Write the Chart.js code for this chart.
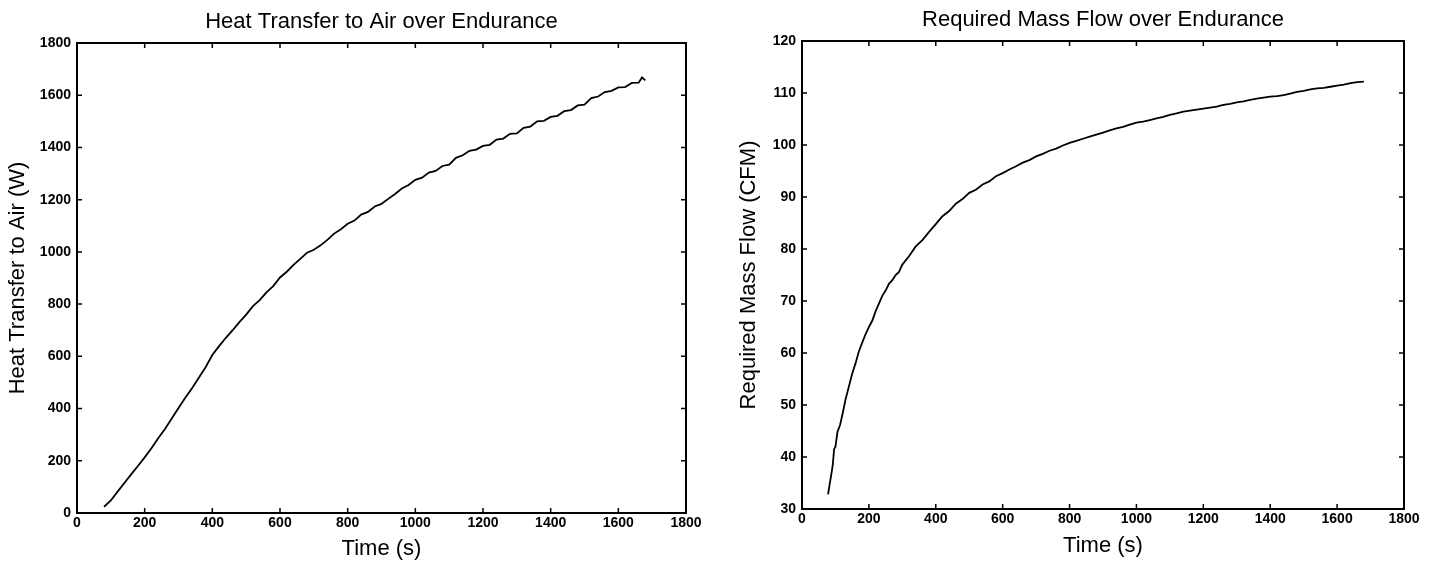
<!DOCTYPE html>
<html>
  <head>
    <meta charset="UTF-8" />
    <title>Heat Transfer and Mass Flow over Endurance</title>
    <script src="https://cdn.jsdelivr.net/npm/chart.js"></script>
    <style>
      body {
        margin: 0;
        background-color: white;
        width: 1432px;
        height: 564px;
        overflow: hidden;
      }
      canvas {
        position: absolute;
        top: 0;
      }
      #heat {
        left: 0;
      }
      #flow {
        left: 716px;
      }
    </style>
  </head>
  <body>
    <canvas id="heat" width="716" height="564"></canvas>
    <canvas id="flow" width="716" height="564"></canvas>

    <script>
      // values
      const heatTime = [
        80, 100, 120, 140, 160, 180, 200, 220, 240, 260, 280, 300, 320, 340, 360, 380, 400,
        420, 440, 460, 480, 500, 520, 540, 560, 580, 600, 620, 640, 660, 680, 700, 720, 740,
        760, 780, 800, 820, 840, 860, 880, 900, 920, 940, 960, 980, 1000, 1020, 1040, 1060,
        1080, 1100, 1120, 1140, 1160, 1180, 1200, 1220, 1240, 1260, 1280, 1300, 1320, 1340,
        1360, 1380, 1400, 1420, 1440, 1460, 1480, 1500, 1520, 1540, 1560, 1580, 1600, 1620,
        1640, 1660, 1670, 1680,
      ];
      const heatWatts = [
        24, 48, 82, 115, 148, 180, 213, 248, 286, 322, 362, 402, 441, 478, 518, 558, 605,
        639, 671, 700, 731, 760, 792, 815, 845, 869, 902, 924, 950, 973, 997, 1008, 1025, 1046,
        1070, 1087, 1108, 1120, 1143, 1153, 1174, 1184, 1203, 1222, 1243, 1256, 1276, 1284, 1304, 1310,
        1329, 1334, 1360, 1370, 1387, 1392, 1406, 1410, 1430, 1434, 1452, 1454, 1475, 1480,
        1500, 1502, 1517, 1521, 1539, 1543, 1561, 1564, 1589, 1595, 1612, 1617, 1630, 1631,
        1647, 1648, 1668, 1657,
      ];

      const flowTime = [
        78, 82, 88, 92, 96, 100, 106, 114, 122, 130, 140, 150, 160, 170, 180, 190, 200, 210,
        220, 230, 240, 250, 260, 270, 280, 290, 300, 320, 340, 360, 380, 400, 420, 440, 460,
        480, 500, 520, 540, 560, 580, 600, 620, 640, 660, 680, 700, 720, 740, 760, 780, 800,
        820, 840, 860, 880, 900, 920, 940, 960, 980, 1000, 1020, 1040, 1060, 1080, 1100, 1120,
        1140, 1160, 1180, 1200, 1220, 1240, 1260, 1280, 1300, 1320, 1340, 1360, 1380, 1400,
        1420, 1440, 1460, 1480, 1500, 1520, 1540, 1560, 1580, 1600, 1620, 1640, 1660, 1680,
      ];
      const flowCfm = [
        32.8, 34.5, 36.8, 38.5, 41.5, 42.0, 44.8, 46.2, 48.5, 51.0, 53.5, 56.0, 58.0, 60.3, 62.0, 63.6, 65.0, 66.2,
        68.0, 69.5, 71.0, 72.0, 73.3, 74.0, 75.0, 75.6, 77.0, 78.6, 80.5, 81.7, 83.3, 84.8, 86.3, 87.3, 88.7,
        89.6, 90.8, 91.4, 92.4, 93.0, 94.0, 94.6, 95.3, 95.9, 96.6, 97.1, 97.8, 98.3, 98.9, 99.3, 99.9, 100.4,
        100.8, 101.2, 101.6, 102.0, 102.4, 102.8, 103.2, 103.5, 103.9, 104.3, 104.5, 104.8, 105.1, 105.4, 105.8, 106.1,
        106.4, 106.6, 106.8, 107.0, 107.2, 107.4, 107.7, 107.9, 108.2, 108.4, 108.7, 108.9, 109.1, 109.3,
        109.4, 109.6, 109.9, 110.2, 110.4, 110.7, 110.9, 111.0, 111.2, 111.4, 111.6, 111.9, 112.1, 112.2,
      ];

      const timeTicks = [0, 200, 400, 600, 800, 1000, 1200, 1400, 1600, 1800];
      const heatTicks = [0, 200, 400, 600, 800, 1000, 1200, 1400, 1600, 1800];
      const flowTicks = [30, 40, 50, 60, 70, 80, 90, 100, 110, 120];

      const fontFamily = "'Liberation Sans', Arial, sans-serif";

      // box with inward ticks on all four sides, like the original plots
      const framePlugin = {
        id: "frame",
        afterDraw(chart) {
          const ctx = chart.ctx;
          const a = chart.chartArea;
          const xs = chart.scales.x;
          const ys = chart.scales.y;
          ctx.save();
          ctx.strokeStyle = "#000";
          ctx.lineWidth = 1.5;
          ctx.beginPath();
          xs.ticks.forEach((t) => {
            const px = xs.getPixelForValue(t.value);
            ctx.moveTo(px, a.bottom);
            ctx.lineTo(px, a.bottom - 5);
            ctx.moveTo(px, a.top);
            ctx.lineTo(px, a.top + 5);
          });
          ys.ticks.forEach((t) => {
            const py = ys.getPixelForValue(t.value);
            ctx.moveTo(a.left, py);
            ctx.lineTo(a.left + 5, py);
            ctx.moveTo(a.right, py);
            ctx.lineTo(a.right - 5, py);
          });
          ctx.stroke();
          ctx.lineWidth = 2;
          ctx.strokeRect(a.left, a.top, a.width, a.height);
          ctx.restore();
        },
      };

      function makeChart(id, opts) {
        const points = opts.xs.map((x, i) => ({ x: x, y: opts.ys[i] }));
        return new Chart(document.getElementById(id), {
          type: "line",
          data: {
            datasets: [
              {
                data: points,
                borderColor: "#000",
                borderWidth: 1.8,
                pointRadius: 0,
                tension: 0,
              },
            ],
          },
          options: {
            responsive: false,
            animation: false,
            layout: { padding: { left: 0, right: opts.padRight, top: 0, bottom: 0 } },
            plugins: {
              legend: { display: false },
              tooltip: { enabled: false },
              title: {
                display: true,
                fullSize: false,
                text: opts.title,
                color: "#000",
                font: { family: fontFamily, size: 22, weight: "normal" },
                padding: { top: opts.titleTop, bottom: opts.titleBottom },
              },
            },
            scales: {
              x: {
                type: "linear",
                min: 0,
                max: 1800,
                afterBuildTicks: (s) => {
                  s.ticks = timeTicks.map((v) => ({ value: v }));
                },
                afterFit: (s) => {
                  s.height = opts.xHeight;
                },
                grid: { display: false, drawTicks: false },
                border: { display: false },
                ticks: {
                  color: "#000",
                  padding: 2,
                  maxRotation: 0,
                  autoSkip: false,
                  callback: (v) => String(v),
                  font: { family: fontFamily, size: 14, weight: "bold" },
                },
                title: {
                  display: true,
                  text: "Time (s)",
                  color: "#000",
                  font: { family: fontFamily, size: 22 },
                  padding: { top: 0, bottom: opts.xTitlePad },
                },
              },
              y: {
                type: "linear",
                min: opts.yMin,
                max: opts.yMax,
                afterBuildTicks: (s) => {
                  s.ticks = opts.yTicks.map((v) => ({ value: v }));
                },
                afterFit: (s) => {
                  s.width = opts.yWidth;
                },
                grid: { display: false, drawTicks: false },
                border: { display: false },
                ticks: {
                  color: "#000",
                  padding: 6,
                  autoSkip: false,
                  callback: (v) => String(v),
                  font: { family: fontFamily, size: 14, weight: "bold" },
                },
                title: {
                  display: true,
                  text: opts.yTitle,
                  color: "#000",
                  font: { family: fontFamily, size: 22 },
                  padding: { top: opts.yTitlePad, bottom: 0 },
                },
              },
            },
          },
          plugins: [framePlugin],
        });
      }

      makeChart("heat", {
        xs: heatTime,
        ys: heatWatts,
        title: "Heat Transfer to Air over Endurance",
        yTitle: "Heat Transfer to Air (W)",
        yMin: 0,
        yMax: 1800,
        yTicks: heatTicks,
        padRight: 30,
        titleTop: 9,
        titleBottom: 7.6,
        xHeight: 51,
        xTitlePad: 2,
        yWidth: 77,
        yTitlePad: 5,
      });

      makeChart("flow", {
        xs: flowTime,
        ys: flowCfm,
        title: "Required Mass Flow over Endurance",
        yTitle: "Required Mass Flow (CFM)",
        yMin: 30,
        yMax: 120,
        yTicks: flowTicks,
        padRight: 28,
        titleTop: 7,
        titleBottom: 7.6,
        xHeight: 55,
        xTitlePad: 5,
        yWidth: 86,
        yTitlePad: 20,
      });
    </script>
  </body>
</html>
